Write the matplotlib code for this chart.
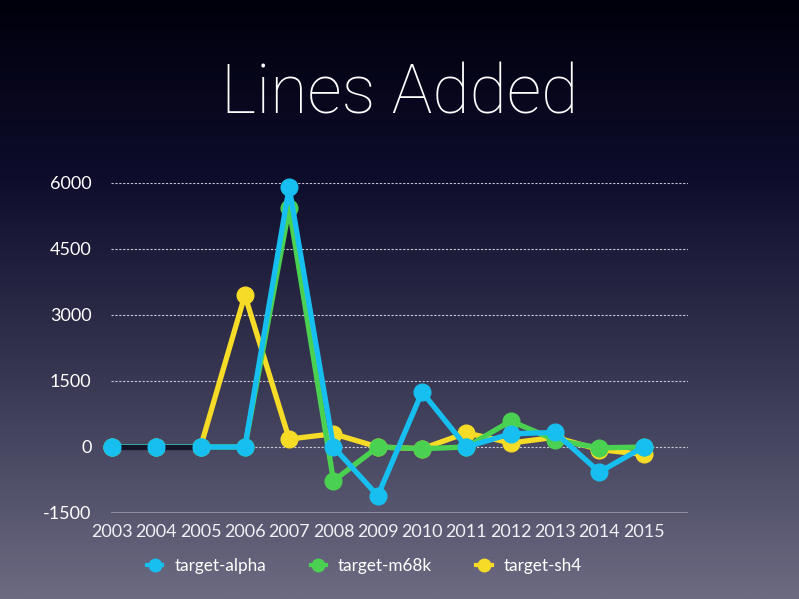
import numpy as np
import matplotlib
matplotlib.use('Agg')
import matplotlib.pyplot as plt
from matplotlib.colors import LinearSegmentedColormap
from matplotlib.lines import Line2D

plt.rcParams['font.family'] = ['Lato', 'DejaVu Sans']

years = list(range(2003, 2016))
alpha = [0, 0, 0, 0, 5900, 0, -1110, 1250, 0, 300, 330, -570, 0]
m68k = [0, 0, 0, 0, 5430, -770, 0, -40, 0, 590, 160, -20, 0]
sh4 = [0, 0, 0, 3450, 180, 300, 0, -40, 320, 90, 220, -60, -170]
yticks = [-1500, 0, 1500, 3000, 4500, 6000]

series = [
    ('target-alpha', alpha, '#17bff0'),
    ('target-m68k', m68k, '#4bd152'),
    ('target-sh4', sh4, '#f6dc26'),
]

fig = plt.figure(figsize=(7.99, 5.99), dpi=100)

# gradient background
bg = fig.add_axes([0, 0, 1, 1], zorder=-10)
cmap = LinearSegmentedColormap.from_list(
    'bg', [(0, '#00000c'), (0.3, '#0e0d2c'), (0.6, '#34334f'), (1, '#6c6b82')])
grad = np.linspace(0, 1, 256).reshape(-1, 1)
bg.imshow(grad, aspect='auto', cmap=cmap, extent=[0, 1, 0, 1], origin='upper')
bg.set_axis_off()

fig.text(0.5, 0.842, 'Lines Added', ha='center', va='center', color='white',
         fontsize=49, fontweight='light', family=['Roboto', 'Lato', 'DejaVu Sans'])

ax = fig.add_axes([0.139, 0.1436, 0.722, 0.551])
ax.patch.set_alpha(0)
ax.set_xlim(2002.98, 2016)
ax.set_ylim(-1500, 6000)

# draw in reverse so alpha sits on top
for name, vals, col in reversed(series):
    ax.plot(years, vals, color=col, lw=3.8, marker='o', ms=12, clip_on=False,
            solid_capstyle='round', zorder=3)
# dark segment at the start, as in the slide render
ax.plot(years[:3], alpha[:3], color='#15152a', lw=3.8, zorder=3.5, solid_capstyle='butt')
ax.plot(years[:3], alpha[:3], 'o', color=series[0][2], ms=12, zorder=3.6, clip_on=False)

ax.set_yticks(yticks)
ax.set_yticklabels([str(v) for v in yticks])
ax.set_xticks(years)
ax.set_xticklabels([str(y) for y in years])
for v in yticks[1:]:
    ax.axhline(v, color='#c8c8d8', lw=0.8, ls=(0, (2, 1.5)), zorder=1)
ax.axhline(-1500, color='#9a9aaa', lw=1.2, zorder=1)

for s in ax.spines.values():
    s.set_visible(False)
ax.tick_params(length=0, colors='white', labelsize=13)
ax.tick_params(axis='x', pad=8, colors='#f0f0f5')
ax.tick_params(axis='y', pad=14)

handles = [Line2D([0], [0], color=c, lw=3, marker='o', ms=9) for _, _, c in series]
leg = fig.legend(handles, [n for n, _, _ in series], loc='center left', ncol=3,
                 bbox_to_anchor=(0.184, 0.055), frameon=False, fontsize=12.3,
                 handlelength=0.9, columnspacing=2.6, handletextpad=0.7,
                 borderpad=0, borderaxespad=0)
for t in leg.get_texts():
    t.set_color('white')

fig.savefig('out.png', dpi=100)
